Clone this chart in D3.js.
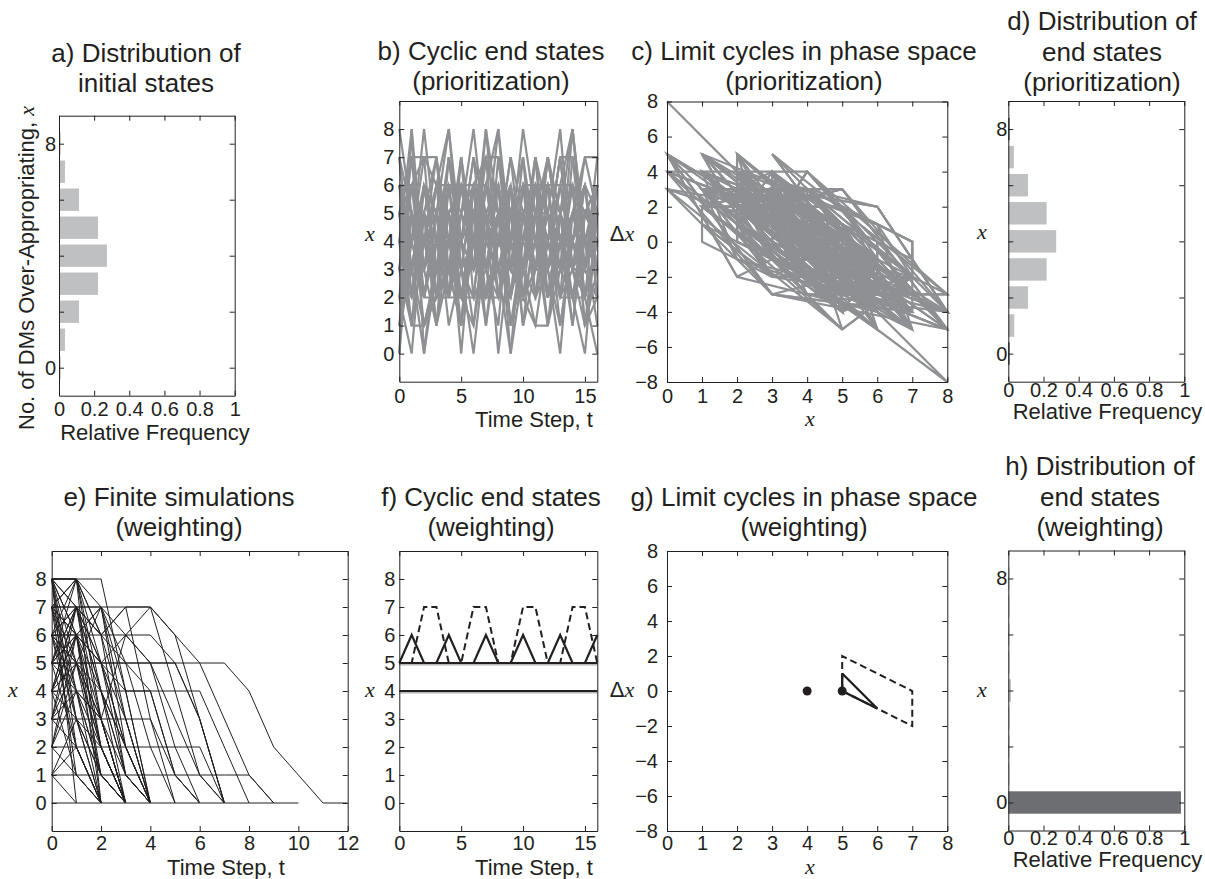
<html>
<head>
    <script src="https://d3js.org/d3.v7.min.js"></script>
    <style>
        body { margin: 0; background: #fff; }
        text { font-family: "Liberation Sans", Arial, sans-serif; fill: #231f20; }
        .var { font-family: "Liberation Serif", "Times New Roman", serif; font-style: italic; }
    </style>
</head>
<body>
<svg width="1205" height="879"></svg>
<script>
// ---- data ----
const states = [0, 1, 2, 3, 4, 5, 6, 7, 8];
const freqTicks = [0, 0.2, 0.4, 0.6, 0.8, 1];

// a) initial states, d) end states (prioritization), h) end states (weighting)
const initialFreq = [0.004, 0.034, 0.114, 0.222, 0.273, 0.222, 0.114, 0.034, 0.004];
const endFreqPrior = [0.004, 0.034, 0.112, 0.218, 0.272, 0.218, 0.112, 0.032, 0.004];
const endFreqWeight = [0.981, 0.003, 0.003, 0.003, 0.015, 0.004, 0.003, 0.003, 0.002];

// b) cyclic end states under prioritization, x at t = 0..16
const cyclesPrior = [
    [0,8,0,4,5,3,6,2,4,5,3,6,2,4,5,3,6],
    [5,1,6,3,2,7,4,1,5,6,2,3,7,4,1,5,6],
    [3,7,2,5,8,3,0,4,8,3,2,6,5,2,7,4,3],
    [6,3,4,7,2,5,6,1,4,7,3,4,6,3,8,3,2],
    [2,6,7,2,5,6,3,7,2,2,6,5,1,5,6,1,5],
    [4,5,1,3,6,2,5,4,3,5,6,2,4,7,3,2,4],
    [7,2,5,4,3,4,7,5,0,4,5,3,3,6,4,6,5],
    [1,4,6,3,4,3,2,6,5,1,4,7,2,3,5,4,3],
    [5,3,3,6,4,2,5,3,6,4,3,2,6,5,2,5,4],
    [4,6,2,2,7,4,3,6,4,3,7,4,5,1,4,6,2],
    [6,4,5,1,3,6,4,2,7,3,4,6,3,4,6,1,3],
    [3,5,4,4,5,1,6,5,2,5,5,3,4,2,3,3,6],
    [4,3,1,2,2,2,2,2,2,2,5,6,4,2,2,2,4],
    [5,7,7,6,6,6,6,6,4,3,6,6,6,6,6,5,6],
    [3,1,1,3,5,6,5,7,7,5,3,1,1,3,5,7,7],
    [6,4,7,7,3,2,4,7,7,4,2,1,4,7,7,3,2],
    [2,0,5,4,5,0,5,3,1,6,4,7,3,0,5,4,3],
    [7,5,3,6,8,4,3,5,6,2,6,3,5,8,3,5,4],
    [4,8,3,5,3,5,8,4,3,4,8,5,2,5,8,4,4],
    [3,4,8,4,2,6,3,8,5,5,1,5,5,3,4,2,6],
    [5,2,6,5,1,3,6,5,4,6,2,3,7,5,1,5,5],
    [6,6,3,4,4,7,2,3,6,1,3,7,5,4,3,6,2],
    [1,5,3,1,4,4,5,2,4,7,5,2,3,1,4,7,5],
    [4,1,4,6,5,3,4,6,3,3,6,4,2,5,6,2,4],
    [5,6,4,3,7,4,1,4,5,4,2,4,7,4,2,3,5],
    [2,3,6,5,3,7,3,5,6,2,4,5,4,6,3,1,2],
    [6,2,5,2,6,5,4,2,3,5,7,2,4,3,6,5,4],
    [3,6,4,5,2,4,7,3,2,6,3,5,6,2,4,3,7],
    [8,5,2,4,7,3,2,6,8,4,5,2,4,7,3,3,5],
    [4,3,6,3,4,5,3,4,3,5,4,3,5,4,3,6,3],
    [5,4,2,5,4,6,5,3,5,4,5,6,3,5,4,5,4],
    [1,3,5,7,4,2,4,6,5,1,3,5,7,4,2,4,6],
    [0,5,4,2,3,1,6,7,5,0,3,4,1,4,6,2,0],
    [7,3,0,3,5,2,1,5,3,0,5,4,5,3,2,0,5],
    [2,4,5,1,6,3,4,8,3,2,5,6,2,5,3,4,5],
    [6,5,2,5,3,1,4,5,6,3,3,7,3,6,8,4,1],
    [3,2,4,6,2,4,6,3,4,6,1,3,5,3,5,6,3]
];

// e) finite simulations under weighting, x at t = 0, 1, 2, ...
const finiteRuns = [
    [8,0], [8,8,0], [8,8,8,4,0], [8,7,2,0], [8,6,1,0], [8,5,3,0], [8,3,0], [8,8,5,2,0], [8,4,0], [8,2,0],
    [8,7,7,3,0], [8,8,6,1,0], [8,6,4,2,0],
    [7,7,7,2,0], [7,8,3,0], [7,6,0], [7,4,1,0], [7,7,6,6,7,4,1,0], [7,5,2,0], [7,1,0], [7,8,7,4,0],
    [7,6,5,1,0], [7,3,2,0],
    [6,6,6,7,7,6,3,0], [6,7,5,6,5,2,0], [6,8,4,1,0], [6,5,7,7,3,0], [6,3,1,0], [6,4,2,0], [6,6,7,5,4,1,0],
    [6,2,0], [6,7,3,0], [6,5,1,0],
    [5,5,5,5,5,5,5,5,4,2,1,0,0], [5,5,5,5,5,5,3,0], [5,7,6,7,7,6,5,3,1,0], [5,6,7,6,5,3,1,0],
    [5,4,3,1,0], [5,2,0], [5,8,6,3,0], [5,7,4,0], [5,6,2,0],
    [4,4,4,4,4,4,4,2,0], [4,7,6,5,2,0], [4,6,3,6,6,5,3,0], [4,5,4,1,0], [4,3,0], [4,1,0], [4,7,5,4,4,1,0],
    [4,6,5,2,0],
    [3,3,3,3,3,1,0], [3,6,5,3,0], [3,5,2,0], [3,2,0], [3,7,4,2,0], [3,4,3,0],
    [2,2,2,2,2,2,2,0], [2,5,3,0], [2,4,1,0], [2,1,0], [2,6,2,0],
    [1,1,1,1,1,1,1,1,1,0], [1,3,1,0], [1,0], [1,2,0],
    [0,0,0,0,0,0,0,0,0,0,0]
];

// f) cyclic end states under weighting, x at t = 0..16
const fixedFour  = [4,4,4,4,4,4,4,4,4,4,4,4,4,4,4,4,4];
const fixedFive  = [5,5,5,5,5,5,5,5,5,5,5,5,5,5,5,5,5];
const cycleThree = [5,6,5,5,6,5,5,6,5,5,6,5,5,6,5,5,6];
const cycleFour  = [5,5,7,7,5,5,7,7,5,5,7,7,5,5,7,7,5];

const ink = "#231f20";
const lineGray = "#8e9093";
const barGray = "#bfc0c2";
const barDark = "#6d6e71";

const svg = d3.select("svg");

// phase-space points (x_t, x_{t+1} - x_t)
const phase = s => s.slice(0, -1).map((v, i) => [v, s[i + 1] - v]);

function panel(o) {
    const xs = d3.scaleLinear().domain(o.xd).range([o.x0, o.x1]);
    const ys = d3.scaleLinear().domain(o.yd).range([o.y1, o.y0]);
    const g = svg.append("g");
    o.draw(g, xs, ys);

    const ax = (gen, tr) => g.append("g").attr("transform", tr).call(gen)
        .attr("color", ink).attr("font-size", 20).attr("font-family", null)
        .call(s => s.select(".domain").attr("stroke-width", 1));

    ax(d3.axisBottom(xs).tickValues(o.xt).tickSize(-5).tickSizeOuter(0).tickPadding(o.xpad)
        .tickFormat(d3.format("~g")), `translate(0,${o.y1})`);
    ax(d3.axisTop(xs).tickValues(o.xt).tickSize(-5).tickSizeOuter(0).tickFormat(""), `translate(0,${o.y0})`);
    ax(d3.axisLeft(ys).tickValues(o.yt).tickSize(-5).tickSizeOuter(0).tickPadding(o.ypad)
        .tickFormat(v => o.ylab.includes(v) ? d3.format("~g")(v) : ""), `translate(${o.x0},0)`);
    ax(d3.axisRight(ys).tickValues(o.yt).tickSize(-5).tickSizeOuter(0).tickFormat(""), `translate(${o.x1},0)`);

    o.title.forEach((t, i) => {
        g.append("text").attr("x", o.tx).attr("y", o.ty[i]).attr("text-anchor", "middle")
            .attr("font-size", 26).text(t);
    });
    o.labels(g);
}

function hbars(values, colorOf) {
    return (g, xs, ys) => {
        g.selectAll("rect").data(values).join("rect")
            .attr("x", xs(0))
            .attr("y", (v, i) => ys(states[i] + 0.4))
            .attr("height", (v, i) => ys(states[i] - 0.4) - ys(states[i] + 0.4))
            .attr("width", v => Math.max(xs(v) - xs(0), 1.2))
            .attr("fill", colorOf);
    };
}

function lines(series, xOf, yOf, color, width, dash) {
    return (g, xs, ys) => {
        const ln = d3.line().x((d, i) => xs(xOf(d, i))).y((d, i) => ys(yOf(d, i)));
        g.append("g").selectAll("path").data(series).join("path")
            .attr("d", ln).attr("fill", "none").attr("stroke", color)
            .attr("stroke-width", width).attr("stroke-linejoin", "miter")
            .attr("stroke-dasharray", dash || null);
    };
}

function xLabel(g, x, y, txt) {
    g.append("text").attr("x", x).attr("y", y).attr("text-anchor", "middle").attr("font-size", 22).text(txt);
}
function varLabel(g, x, y, delta) {
    const t = g.append("text").attr("x", x).attr("y", y).attr("text-anchor", "middle").attr("font-size", 22);
    if (delta) t.append("tspan").text("Δ");
    t.append("tspan").attr("class", "var").text("x");
}

const stateAxis = { yd: [-1, 9], yt: [0, 2, 4, 6, 8], ylab: [0, 8], xd: [0, 1], xt: freqTicks };
const deltaTicks = [-8, -6, -4, -2, 0, 2, 4, 6, 8];

// a)
panel(Object.assign({}, stateAxis, {
    x0: 59, x1: 234.7, y0: 115.7, y1: 395.7, xpad: 6, ypad: 3,
    title: ["a) Distribution of", "initial states"], tx: 146, ty: [62, 92],
    draw: hbars(initialFreq, v => v < 0.01 ? ink : barGray),
    labels: g => {
        xLabel(g, 155, 440, "Relative Frequency");
        const t = g.append("text").attr("transform", "translate(34,268) rotate(-90)")
            .attr("text-anchor", "middle").attr("font-size", 22);
        t.append("tspan").text("No. of DMs Over-Appropriating, ");
        t.append("tspan").attr("class", "var").text("x");
    }
}));

// b)
panel({
    x0: 399.3, x1: 597.3, y0: 101, y1: 381.7, xd: [0, 16], yd: [-1, 9],
    xt: [0, 5, 10, 15], yt: states, ylab: states, xpad: 7, ypad: 5,
    title: ["b) Cyclic end states", "(prioritization)"], tx: 491, ty: [60, 90],
    draw: lines(cyclesPrior, (d, i) => i, d => d, lineGray, 2.2),
    labels: g => { xLabel(g, 534, 427, "Time Step, t"); varLabel(g, 370, 241); }
});

// c)
panel({
    x0: 667, x1: 947.3, y0: 101.5, y1: 382, xd: [0, 8], yd: [-8, 8],
    xt: states, yt: deltaTicks, ylab: deltaTicks, xpad: 7, ypad: 9,
    title: ["c) Limit cycles in phase space", "(prioritization)"], tx: 804, ty: [60, 90],
    draw: lines(cyclesPrior.map(phase), d => d[0], d => d[1], lineGray, 2.2),
    labels: g => { varLabel(g, 810, 426); varLabel(g, 622, 241, true); }
});

// d)
panel(Object.assign({}, stateAxis, {
    x0: 1008.3, x1: 1184.3, y0: 101, y1: 381.7, xpad: 1, ypad: 1,
    title: ["d) Distribution of", "end states", "(prioritization)"], tx: 1102, ty: [30, 61, 91],
    draw: hbars(endFreqPrior, v => v < 0.01 ? ink : barGray),
    labels: g => { xLabel(g, 1107.5, 419, "Relative Frequency"); varLabel(g, 982, 239); }
}));

// e)
panel({
    x0: 51.7, x1: 347.7, y0: 551, y1: 831, xd: [0, 12], yd: [-1, 9],
    xt: [0, 2, 4, 6, 8, 10, 12], yt: states, ylab: states, xpad: 5, ypad: 5,
    title: ["e) Finite simulations", "(weighting)"], tx: 179, ty: [506, 536],
    draw: lines(finiteRuns, (d, i) => i, d => d, ink, 1),
    labels: g => { xLabel(g, 226, 875, "Time Step, t"); varLabel(g, 13, 697); }
});

// f)
panel({
    x0: 399.3, x1: 597.3, y0: 551, y1: 831, xd: [0, 16], yd: [-1, 9],
    xt: [0, 5, 10, 15], yt: states, ylab: states, xpad: 5, ypad: 4,
    title: ["f) Cyclic end states", "(weighting)"], tx: 491, ty: [506, 536],
    draw: (g, xs, ys) => {
        const under = g.append("g").attr("transform", "translate(0,1.2)");
        lines([fixedFour, fixedFive], (d, i) => i, d => d, "#b5b6b8", 2.5)(under, xs, ys);
        lines([fixedFour, fixedFive, cycleThree], (d, i) => i, d => d, ink, 2.2)(g, xs, ys);
        lines([cycleFour], (d, i) => i, d => d, ink, 2, "7,4")(g, xs, ys);
    },
    labels: g => { xLabel(g, 534, 875, "Time Step, t"); varLabel(g, 370, 697); }
});

// g) one period of each cycle in phase space
panel({
    x0: 667, x1: 947.3, y0: 551, y1: 831, xd: [0, 8], yd: [-8, 8],
    xt: states, yt: deltaTicks, ylab: deltaTicks, xpad: 5, ypad: 9,
    title: ["g) Limit cycles in phase space", "(weighting)"], tx: 804, ty: [506, 536],
    draw: (g, xs, ys) => {
        lines([phase(cycleFour.slice(0, 6))], d => d[0], d => d[1], ink, 2, "7,4")(g, xs, ys);
        lines([phase(cycleThree.slice(0, 5))], d => d[0], d => d[1], ink, 2.4)(g, xs, ys);
        g.append("g").selectAll("circle").data([phase(fixedFour)[0], phase(fixedFive)[0]]).join("circle")
            .attr("cx", d => xs(d[0])).attr("cy", d => ys(d[1])).attr("r", 4.5).attr("fill", ink);
    },
    labels: g => { varLabel(g, 810, 874); varLabel(g, 622, 697, true); }
});

// h)
panel(Object.assign({}, stateAxis, {
    x0: 1008.3, x1: 1184.3, y0: 550.5, y1: 830.5, xpad: 0, ypad: 1,
    title: ["h) Distribution of", "end states", "(weighting)"], tx: 1100, ty: [475, 506, 536],
    draw: hbars(endFreqWeight, v => v > 0.5 ? barDark : barGray),
    labels: g => { xLabel(g, 1107.5, 867, "Relative Frequency"); varLabel(g, 982, 697); }
}));
</script>
</body>
</html>
